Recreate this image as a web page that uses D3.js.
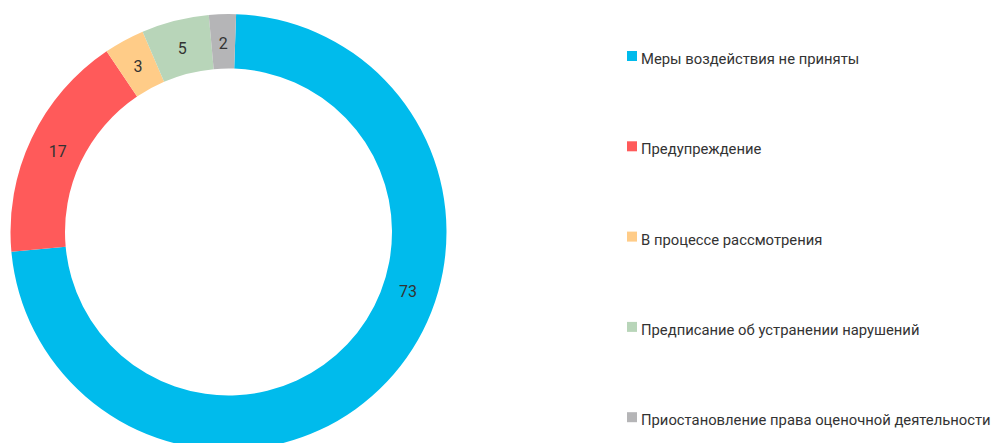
<!DOCTYPE html>
<html>
<head>
    <meta charset="utf-8">
    <title>Doughnut</title>
    <script src="https://cdn.jsdelivr.net/npm/d3@7/dist/d3.min.js"></script>
    <style>
        body { margin: 0; background: #fff; }
        text { font-family: Roboto, 'Liberation Sans', sans-serif; }
    </style>
</head>
<body>
    <svg width="1005" height="443" id="mainsvg"></svg>
    <script>
        const categories = [
            'Меры воздействия не приняты',
            'Предупреждение',
            'В процессе рассмотрения',
            'Предписание об устранении нарушений',
            'Приостановление права оценочной деятельности'
        ];
        const values = [73, 17, 3, 5, 2];
        const colors = ['#00bbec', '#ff5a5a', '#ffcc88', '#b8d5b9', '#b5b5b7'];
        // where along its own arc each value label sits (0.5 = middle)
        const labelAt = [0.404, 0.5, 0.5, 0.5, 0.5];

        const svg = d3.select('#mainsvg');
        const cx = 228.5, cy = 232;
        const outerR = 218, innerR = 163.5;
        const rotate = 2 * Math.PI / 180; // first slice starts a bit right of 12 o'clock

        const g = svg.append('g').attr('transform', `translate(${cx}, ${cy})`);

        const pie = d3.pie().sort(null).value(d => d)
            .startAngle(rotate).endAngle(rotate + 2 * Math.PI);
        const arcs = pie(values);
        const arc = d3.arc().innerRadius(innerR).outerRadius(outerR);

        g.selectAll('.slice').data(arcs).join('path')
            .attr('class', 'slice')
            .attr('d', arc)
            .attr('fill', (d, i) => colors[i]);

        const labelR = 189;
        const labelAngle = (d, i) => d.startAngle + (d.endAngle - d.startAngle) * labelAt[i];
        g.selectAll('.vlabel').data(arcs).join('text')
            .attr('class', 'vlabel')
            .attr('x', (d, i) => labelR * Math.sin(labelAngle(d, i)))
            .attr('y', (d, i) => -labelR * Math.cos(labelAngle(d, i)))
            .attr('text-anchor', 'middle')
            .attr('dy', '0.35em')
            .attr('font-size', '16px')
            .attr('fill', '#333333')
            .text(d => d.data);

        // legend
        const lg = svg.append('g').attr('transform', 'translate(627, 56)');
        const rowStep = 90.3;
        lg.selectAll('.lrect').data(categories).join('rect')
            .attr('class', 'lrect')
            .attr('x', 0)
            .attr('y', (d, i) => i * rowStep - 5)
            .attr('width', 10)
            .attr('height', 10)
            .attr('fill', (d, i) => colors[i]);
        lg.selectAll('.ltext').data(categories).join('text')
            .attr('class', 'ltext')
            .attr('x', 14)
            .attr('y', (d, i) => i * rowStep + 8)
            .attr('font-size', '14.8px')
            .attr('fill', '#333333')
            .text(d => d);
    </script>
</body>
</html>
